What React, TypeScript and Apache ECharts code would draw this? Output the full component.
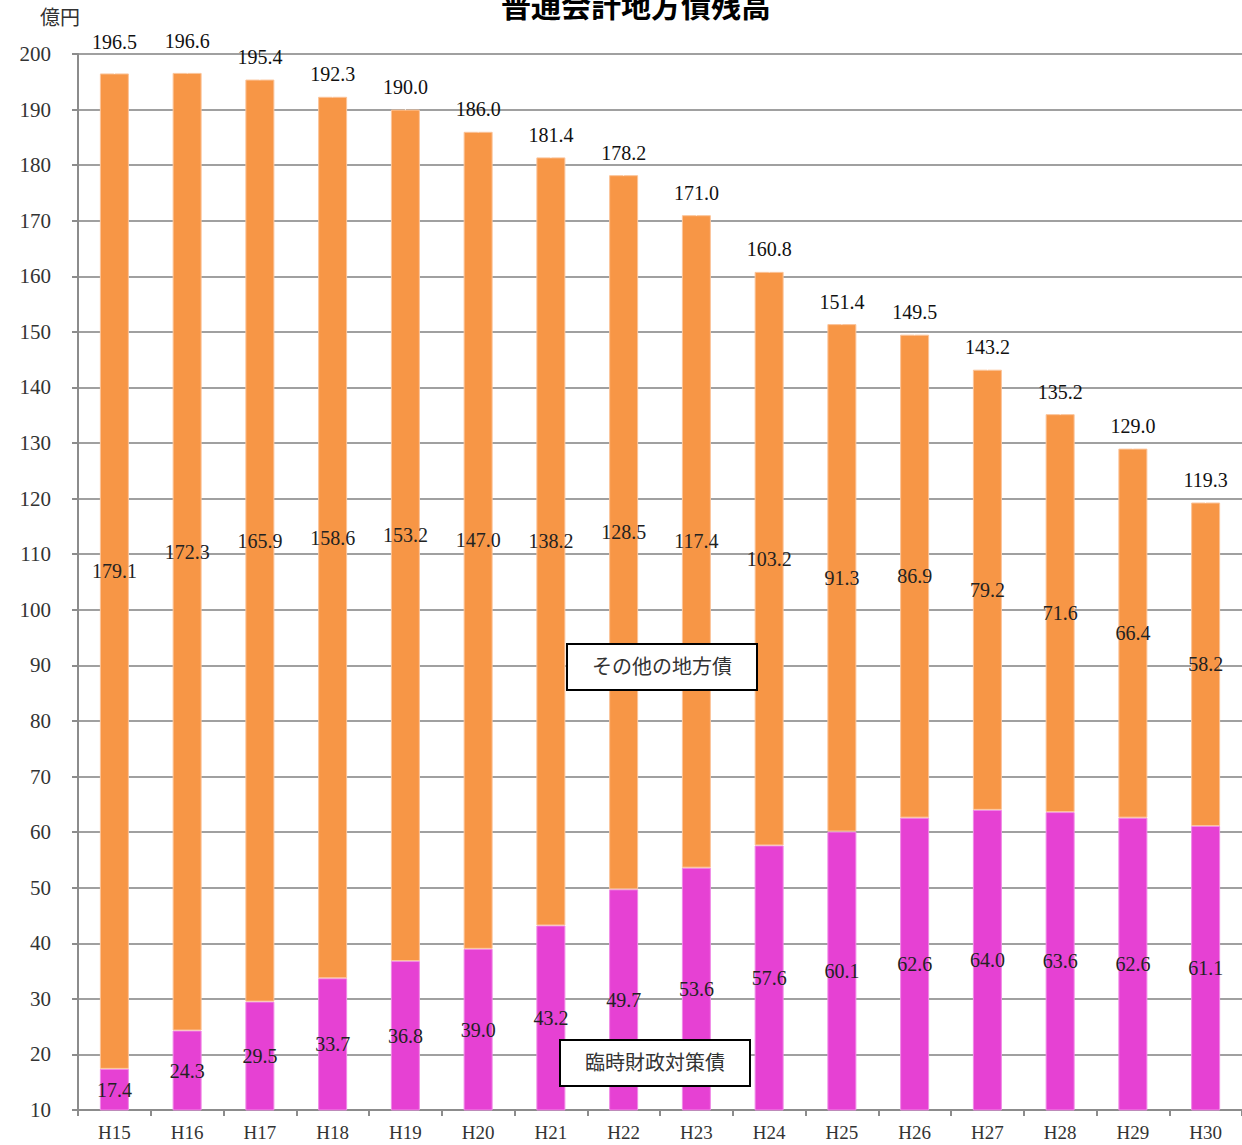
import React, { useEffect, useRef } from "react";
import * as echarts from "echarts";

const categories = ["H15", "H16", "H17", "H18", "H19", "H20", "H21", "H22", "H23", "H24", "H25", "H26", "H27", "H28", "H29", "H30"];
const rinjiValues = [17.4, 24.3, 29.5, 33.7, 36.8, 39.0, 43.2, 49.7, 53.6, 57.6, 60.1, 62.6, 64.0, 63.6, 62.6, 61.1];
const otherValues = [179.1, 172.3, 165.9, 158.6, 153.2, 147.0, 138.2, 128.5, 117.4, 103.2, 91.3, 86.9, 79.2, 71.6, 66.4, 58.2];
const totalValues = [196.5, 196.6, 195.4, 192.3, 190.0, 186.0, 181.4, 178.2, 171.0, 160.8, 151.4, 149.5, 143.2, 135.2, 129.0, 119.3];

const FONT = "'Liberation Serif', 'Noto Sans CJK JP', serif";
const fmt = (p: any) => Number(p.value).toFixed(1);

export default function App() {
  const ref = useRef<HTMLDivElement>(null);
  useEffect(() => {
    document.body.style.margin = "0";
    const chart = echarts.init(ref.current!, null, { renderer: "svg" });
    const labelStyle = { show: true, position: "inside", formatter: fmt, color: "#222", fontSize: 20, fontFamily: FONT };
    const boxText = (x: number, y: number, text: string) => [
      { type: "rect", z: 100, shape: { x, y, width: 190, height: 46 }, style: { fill: "#fff", stroke: "#000", lineWidth: 2 } },
      { type: "text", z: 101, x: x + 95, y: y + 23, style: { text, fontSize: 20, fill: "#333", fontFamily: FONT, textAlign: "center", textVerticalAlign: "middle" } },
    ];
    chart.setOption({
      animation: false,
      grid: { left: 78, top: 54, width: 1168, bottom: 35, containLabel: false },
      xAxis: {
        type: "category",
        data: categories,
        axisLine: { lineStyle: { color: "#8c8c8c", width: 2 } },
        axisTick: { show: true, length: 6, lineStyle: { color: "#8c8c8c", width: 2 } },
        axisLabel: { color: "#333", fontSize: 19, fontFamily: FONT, margin: 13 },
      },
      yAxis: {
        type: "value",
        min: 10,
        max: 200,
        interval: 10,
        axisLine: { show: true, lineStyle: { color: "#8c8c8c", width: 2 } },
        axisTick: { show: true, length: 6, lineStyle: { color: "#8c8c8c", width: 2 } },
        axisLabel: { color: "#333", fontSize: 21, fontFamily: FONT, margin: 27 },
        splitLine: { show: true, lineStyle: { color: "#a0a0a0", width: 2 } },
      },
      series: [
        {
          name: "臨時財政対策債",
          type: "bar",
          stack: "total",
          barWidth: 29,
          data: rinjiValues,
          itemStyle: { color: "#E641D3", borderColor: "#F08AE6", borderWidth: 1 },
          label: labelStyle,
        },
        {
          name: "その他の地方債",
          type: "bar",
          stack: "total",
          barWidth: 29,
          data: otherValues,
          itemStyle: { color: "#F79646", borderColor: "#FBC49A", borderWidth: 1 },
          label: labelStyle,
        },
        {
          name: "合計",
          type: "scatter",
          symbolSize: 1,
          data: totalValues.map((v, i) => ({ value: v, label: { distance: i < 2 ? 21 : 12 } })),
          itemStyle: { color: "#fff", opacity: 1 },
          label: { show: true, position: "top", formatter: fmt, color: "#111", opacity: 1, fontSize: 20, fontFamily: FONT },
          z: 10,
        },
      ],
      graphic: [
        {
          type: "text",
          x: 636,
          y: 4,
          style: { text: "普通会計地方債残高", fontSize: 30, fontWeight: "bold", fill: "#000", fontFamily: "'Noto Sans CJK JP', sans-serif", textAlign: "center", textVerticalAlign: "middle" },
        },
        {
          type: "text",
          x: 40,
          y: 18,
          style: { text: "億円", fontSize: 20, fill: "#333", fontFamily: FONT, textVerticalAlign: "middle" },
        },
        ...boxText(567, 644, "その他の地方債"),
        ...boxText(560, 1040, "臨時財政対策債"),
      ],
    });
    return () => chart.dispose();
  }, []);
  return <div ref={ref} style={{ position: "absolute", left: 0, top: 0, width: 1242, height: 1145 }} />;
}
